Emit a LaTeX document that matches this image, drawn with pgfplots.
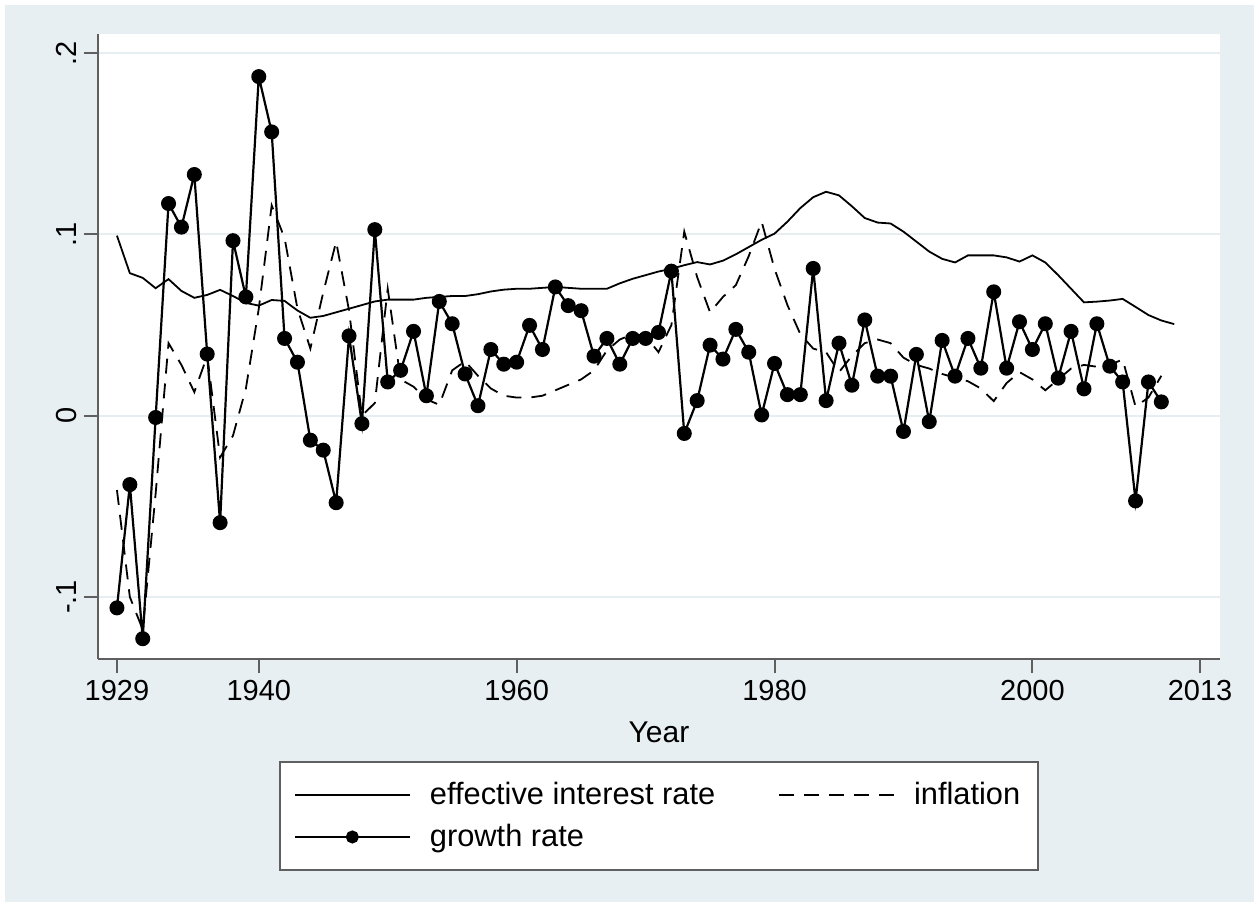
\documentclass[border=0pt]{standalone}
\usepackage{fontspec}
\setmainfont{Liberation Sans}
\usepackage{pgfplots}
\pgfplotsset{compat=1.18}
\usepackage{pgfplotstable}

\definecolor{bgcol}{RGB}{232,239,242}
\definecolor{gridcol}{RGB}{230,238,241}
\definecolor{axcol}{RGB}{95,95,95}

% year, effective interest rate, inflation, growth rate
\pgfplotstableread{
year interest inflation growth
1929 0.0993 -0.041 -0.106
1930 0.0786 -0.100 -0.038
1931 0.0760 -0.118 -0.123
1932 0.0703 -0.043 -0.001
1933 0.0753 0.040 0.117
1934 0.0688 0.028 0.104
1935 0.0650 0.013 0.133
1936 0.0666 0.033 0.034
1937 0.0694 -0.023 -0.059
1938 0.0660 -0.011 0.0965
1939 0.0622 0.015 0.0655
1940 0.0607 0.059 0.187
1941 0.0638 0.116 0.1565
1942 0.0633 0.098 0.0426
1943 0.0580 0.059 0.0295
1944 0.0540 0.037 -0.0135
1945 0.0550 0.068 -0.019
1946 0.0570 0.096 -0.048
1947 0.0590 0.058 0.044
1948 0.0610 0.000 -0.0044
1949 0.0630 0.007 0.1026
1950 0.0640 0.070 0.0186
1951 0.0640 0.020 0.025
1952 0.0640 0.016 0.0465
1953 0.0650 0.009 0.011
1954 0.0655 0.006 0.063
1955 0.0660 0.025 0.0507
1956 0.0660 0.030 0.023
1957 0.0670 0.022 0.0055
1958 0.0685 0.015 0.0365
1959 0.0695 0.011 0.0284
1960 0.0700 0.010 0.0295
1961 0.0700 0.010 0.0498
1962 0.0705 0.011 0.0365
1963 0.0710 0.014 0.071
1964 0.0705 0.017 0.0607
1965 0.0700 0.020 0.0579
1966 0.0700 0.025 0.0328
1967 0.0700 0.036 0.0426
1968 0.0730 0.042 0.0284
1969 0.0755 0.045 0.0426
1970 0.0775 0.044 0.0426
1971 0.0795 0.035 0.0459
1972 0.0810 0.050 0.0797
1973 0.0830 0.1015 -0.0098
1974 0.0847 0.0764 0.0083
1975 0.0834 0.057 0.0389
1976 0.0855 0.0655 0.0312
1977 0.0890 0.072 0.0476
1978 0.0930 0.088 0.035
1979 0.0970 0.107 0.0004
1980 0.1004 0.081 0.0288
1981 0.1070 0.061 0.0116
1982 0.1145 0.045 0.0116
1983 0.1205 0.037 0.0812
1984 0.1235 0.035 0.0083
1985 0.1215 0.024 0.040
1986 0.1155 0.033 0.0168
1987 0.1090 0.040 0.0528
1988 0.1065 0.042 0.0218
1989 0.1060 0.040 0.0218
1990 0.1015 0.032 -0.0087
1991 0.0960 0.028 0.0338
1992 0.0905 0.026 -0.0033
1993 0.0865 0.023 0.0415
1994 0.0845 0.021 0.0218
1995 0.0884 0.019 0.0426
1996 0.0884 0.015 0.0262
1997 0.0884 0.008 0.0683
1998 0.0873 0.018 0.0262
1999 0.0850 0.024 0.0518
2000 0.0884 0.020 0.0365
2001 0.0845 0.014 0.0507
2002 0.0775 0.020 0.0207
2003 0.0700 0.026 0.0465
2004 0.0625 0.028 0.0148
2005 0.0629 0.027 0.0507
2006 0.0635 0.028 0.0273
2007 0.0644 0.031 0.0186
2008 0.0600 0.005 -0.047
2009 0.0555 0.010 0.0186
2010 0.0525 0.022 0.0076
2011 0.0505 nan nan
}\rates

\begin{document}
\begin{tikzpicture}
% graph region (white rim, light bluish fill)
\fill[white] (-49pt,-124pt) rectangle (580.5pt,329.5pt);
\fill[bgcol] (-46.5pt,-121.5pt) rectangle (578pt,327pt);
\begin{axis}[
  at={(0pt,0pt)}, anchor=south west,
  scale only axis, width=561pt, height=312.5pt,
  xmin=1927.53, xmax=2014.55, ymin=-0.1342, ymax=0.2105,
  axis background/.style={fill=white},
  axis x line*=bottom, axis y line*=left,
  axis line style={-, draw=axcol, line width=1pt},
  tick align=outside, major tick length=7pt,
  tick style={draw=axcol, line width=1pt},
  xtick={1929,1940,1960,1980,2000,2013},
  xticklabels={1929,1940,1960,1980,2000,2013},
  ytick={-0.1,0,0.1,0.2},
  yticklabels={-.1,0,.1,.2},
  ymajorgrids,
  major grid style={draw=gridcol, line width=1pt},
  tick label style={font=\fontsize{14.5}{17}\selectfont},
  yticklabel style={rotate=90, anchor=south},
  xlabel={Year},
  every axis x label/.style={at={(axis description cs:0.5,0)}, anchor=center,
    yshift=-36.5pt, font=\fontsize{15}{18}\selectfont},
  legend columns=2,
  legend cell align=left,
  legend image code/.code={\draw[mark repeat=2,mark phase=2,#1,mark size=2.7pt]
    plot coordinates {(0pt,0pt) (28.75pt,0pt) (57.5pt,0pt)};},
  legend style={at={(0.5,-0.1632)}, anchor=north, draw=axcol, line width=1pt,
    fill=white, font=\fontsize{15.4}{18}\selectfont, inner xsep=7pt, inner ysep=8pt,
    row sep=4.5pt,
    /tikz/every odd column/.append style={column sep=7.5pt},
    /tikz/every even column/.append style={column sep=29.5pt}},
]
\addplot[black, line width=0.9pt] table[x=year, y=interest] {\rates};
\addplot[black, line width=0.9pt, dash pattern=on 7.5pt off 5pt] table[x=year, y=inflation] {\rates};
\addplot[black, line width=1.1pt, mark=*, mark size=3.2pt, mark options={solid}] table[x=year, y=growth] {\rates};
\legend{effective interest rate, inflation, growth rate}
\end{axis}
\end{tikzpicture}
\end{document}
